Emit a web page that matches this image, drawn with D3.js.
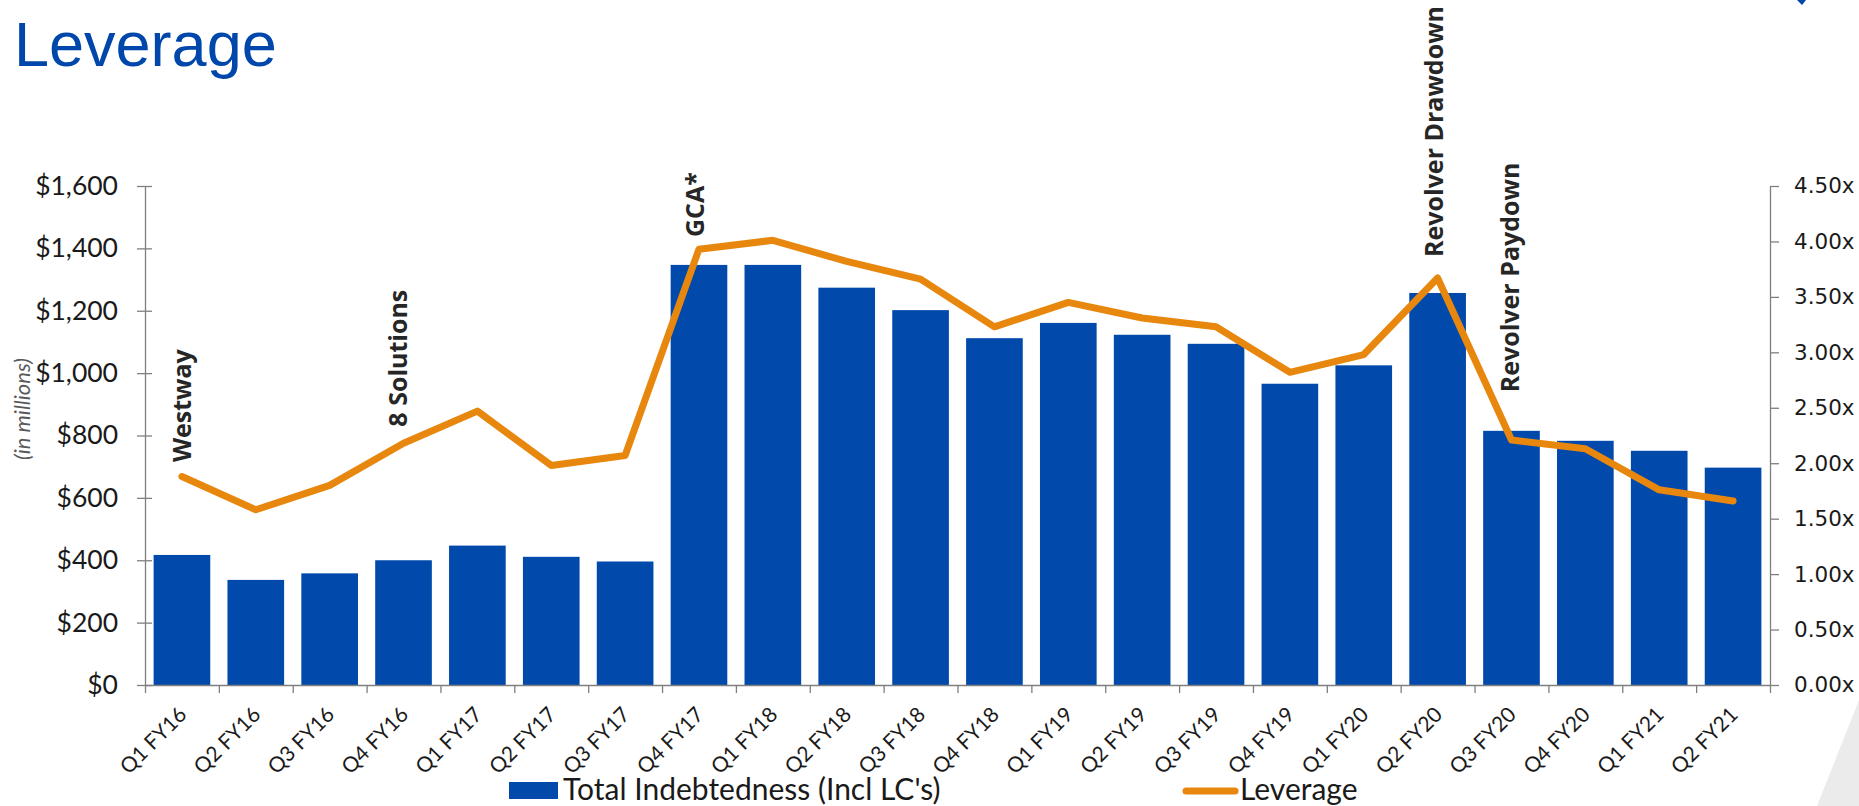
<!DOCTYPE html>
<html>
<head>
<meta charset="utf-8">
<script src="https://cdn.jsdelivr.net/npm/d3@7"></script>
<style>
  body { margin: 0; background: #fff; }
  svg { display: block; }
</style>
</head>
<body>
<div id="chart"></div>
<script>
// values
const quarters = ["Q1 FY16", "Q2 FY16", "Q3 FY16", "Q4 FY16", "Q1 FY17", "Q2 FY17", "Q3 FY17",
    "Q4 FY17", "Q1 FY18", "Q2 FY18", "Q3 FY18", "Q4 FY18", "Q1 FY19", "Q2 FY19", "Q3 FY19",
    "Q4 FY19", "Q1 FY20", "Q2 FY20", "Q3 FY20", "Q4 FY20", "Q1 FY21", "Q2 FY21"];
const indebtedness = [417, 337, 358, 400, 447, 411, 396, 1347, 1347, 1274, 1202, 1112, 1161, 1123,
    1094, 966, 1025, 1257, 815, 783, 751, 697];
const leverage = [1.88, 1.58, 1.80, 2.18, 2.47, 1.98, 2.07, 3.93, 4.01, 3.82, 3.66, 3.23, 3.45, 3.31,
    3.23, 2.82, 2.98, 3.67, 2.21, 2.13, 1.76, 1.66];
const leftTicks = [0, 200, 400, 600, 800, 1000, 1200, 1400, 1600];
const rightTicks = [0, 0.5, 1, 1.5, 2, 2.5, 3, 3.5, 4, 4.5];
const events = [
    {quarter: "Q1 FY16", text: "Westway", at: 2.01, dx: 0},
    {quarter: "Q4 FY16", text: "8 Solutions", at: 2.33, dx: -6},
    {quarter: "Q4 FY17", text: "GCA*", at: 4.04, dx: -4},
    {quarter: "Q2 FY20", text: "Revolver Drawdown", at: 3.86, dx: -4},
    {quarter: "Q3 FY20", text: "Revolver Paydown", at: 2.64, dx: -1}
];

const width = 1859;
const height = 806;
const margin = {top: 186, left: 145, right: 89, bottom: 121};
const blue = "#014aac";
const orange = "#e8870e";
const axisColor = "#7f7f7f";

const svg = d3.select("#chart")
    .append("svg")
    .attr("width", width)
    .attr("height", height);

svg.append("text")
    .attr("x", 14)
    .attr("y", 66)
    .style("font-family", "'Liberation Sans', Arial, sans-serif")
    .style("font-size", "63px")
    .style("fill", "#0047ab")
    .text("Leverage");

const x = d3.scaleBand()
    .domain(quarters)
    .range([margin.left, width - margin.right])
    .paddingInner(0.233)
    .paddingOuter(0.1165);

const xEdge = d3.scaleLinear()
    .domain([0, quarters.length])
    .range([margin.left, width - margin.right]);

const yLeft = d3.scaleLinear()
    .domain([0, 1600])
    .range([height - margin.bottom, margin.top]);

const yRight = d3.scaleLinear()
    .domain([0, 4.5])
    .range([height - margin.bottom, margin.top]);

const cx = function(q) { return x(q) + x.bandwidth() / 2; };

// bars
svg.selectAll("rect.bar")
    .data(quarters)
    .enter()
    .append("rect")
        .attr("class", "bar")
        .attr("x", function(d) { return x(d); })
        .attr("y", function(d, i) { return yLeft(indebtedness[i]); })
        .attr("width", x.bandwidth())
        .attr("height", function(d, i) { return yLeft(0) - yLeft(indebtedness[i]); })
        .style("fill", blue);

// axes
const gLeft = svg.append("g")
    .attr("transform", `translate(${margin.left},0)`)
    .call(d3.axisLeft(yLeft)
        .tickValues(leftTicks)
        .tickSize(8)
        .tickSizeOuter(0)
        .tickPadding(19)
        .tickFormat(function(d) { return "$" + d3.format(",")(d); }));
gLeft.selectAll(".tick line").attr("x1", 7);

const gRight = svg.append("g")
    .attr("transform", `translate(${width - margin.right},0)`)
    .call(d3.axisRight(yRight)
        .tickValues(rightTicks)
        .tickSize(9)
        .tickSizeOuter(0)
        .tickPadding(15)
        .tickFormat(function(d) { return d3.format(".2f")(d) + "x"; }));

const gBottom = svg.append("g")
    .attr("transform", `translate(0,${height - margin.bottom})`)
    .call(d3.axisBottom(xEdge)
        .tickValues(d3.range(quarters.length + 1))
        .tickSize(8)
        .tickSizeOuter(0)
        .tickFormat(""));

[gLeft, gRight, gBottom].forEach(function(g) {
    g.selectAll("path, line").style("stroke", axisColor).style("stroke-width", 1.3);
});
gLeft.selectAll("text")
    .style("font-family", "Lato, sans-serif")
    .style("font-size", "26.5px")
    .style("fill", "#1a1a1a");
gRight.selectAll("text")
    .style("font-family", "'DejaVu Sans', Verdana, sans-serif")
    .style("font-size", "21.5px")
    .style("fill", "#1a1a1a");

svg.append("text")
    .attr("transform", `translate(30,409) rotate(-90)`)
    .style("text-anchor", "middle")
    .style("font-family", "Lato, sans-serif")
    .style("font-style", "italic")
    .style("font-size", "22px")
    .style("fill", "#595959")
    .text("(in millions)");

// category labels
svg.selectAll("text.qlabel")
    .data(quarters)
    .enter()
    .append("text")
        .attr("class", "qlabel")
        .attr("transform", function(d) { return `translate(${cx(d) + 6},716) rotate(-45)`; })
        .style("text-anchor", "end")
        .style("font-family", "Lato, sans-serif")
        .style("font-size", "21px")
        .style("fill", "#1a1a1a")
        .text(function(d) { return d; });

// leverage line
const line = d3.line()
    .x(function(d, i) { return cx(quarters[i]); })
    .y(function(d) { return yRight(d); });

svg.append("path")
    .datum(leverage)
    .attr("d", line)
    .style("fill", "none")
    .style("stroke", orange)
    .style("stroke-width", 7)
    .style("stroke-linejoin", "round")
    .style("stroke-linecap", "round");

// event notes
svg.selectAll("text.event")
    .data(events)
    .enter()
    .append("text")
        .attr("class", "event")
        .attr("transform", function(d) { return `translate(${cx(d.quarter) + 9 + d.dx},${yRight(d.at)}) rotate(-90)`; })
        .style("font-family", "'Open Sans', sans-serif")
        .style("font-weight", "bold")
        .style("font-size", "25px")
        .style("fill", "#262626")
        .text(function(d) { return d.text; });

// legend
const legend = svg.append("g");
legend.append("rect")
    .attr("x", 509)
    .attr("y", 782)
    .attr("width", 49)
    .attr("height", 17)
    .style("fill", blue);
legend.append("text")
    .attr("x", 563)
    .attr("y", 800)
    .style("font-family", "Lato, sans-serif")
    .style("font-size", "30px")
    .style("fill", "#1a1a1a")
    .text("Total Indebtedness (Incl LC's)");
legend.append("line")
    .attr("x1", 1186)
    .attr("x2", 1235)
    .attr("y1", 791)
    .attr("y2", 791)
    .style("stroke", orange)
    .style("stroke-width", 7)
    .style("stroke-linecap", "round");
legend.append("text")
    .attr("x", 1240)
    .attr("y", 800)
    .style("font-family", "Lato, sans-serif")
    .style("font-size", "30px")
    .style("fill", "#1a1a1a")
    .text("Leverage");

// slide decoration
svg.append("polygon")
    .attr("points", "1817,806 1859,700 1859,806")
    .style("fill", "#ebebeb");
svg.append("path")
    .attr("d", "M1797,0 L1806,0 L1802,5 Z")
    .style("fill", "#0047ab");
</script>
</body>
</html>
